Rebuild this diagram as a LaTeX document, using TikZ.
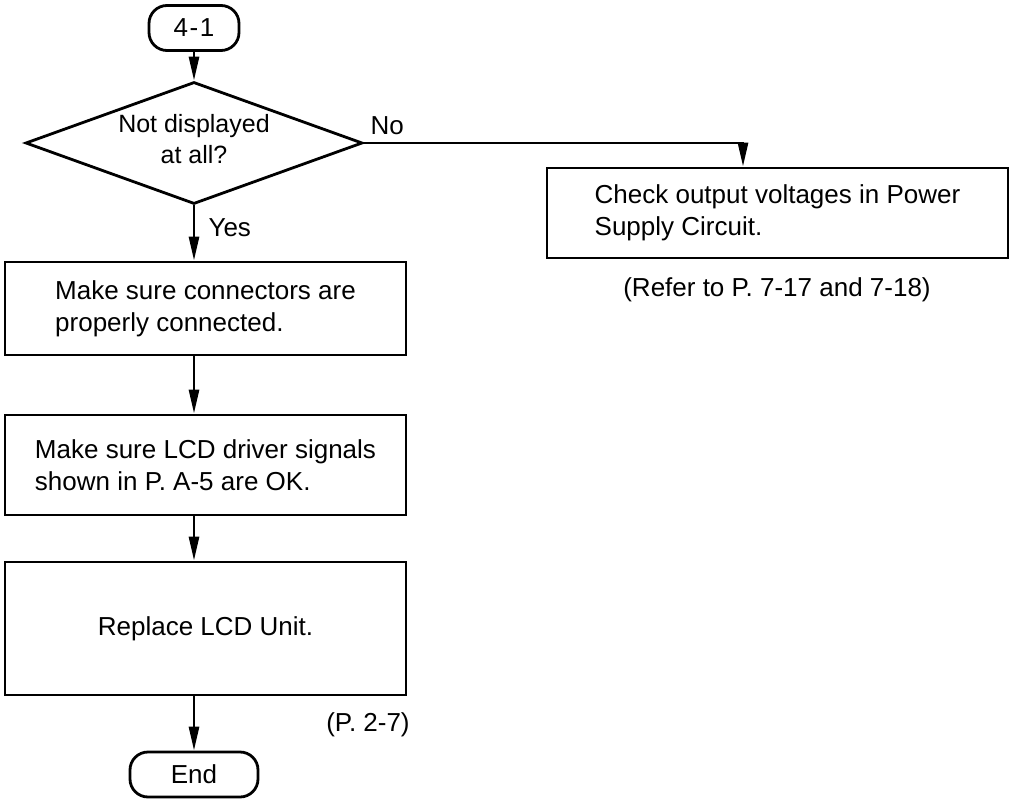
\documentclass[tikz,border=0pt]{standalone}
\usepackage{fontspec}
\setmainfont{Liberation Sans}
\usetikzlibrary{shapes.geometric,arrows.meta}
\begin{document}
\begin{tikzpicture}[x=1pt,y=-1pt,
  every node/.style={font=\fontsize{26}{32}\selectfont},
  arr/.style={line width=2.8pt,-{Triangle[length=24pt,width=10pt]}},
  box/.style={draw,line width=2.8pt,rectangle,align=left,inner sep=0pt},
  term/.style={draw,line width=2.8pt,rectangle,rounded corners=18pt,inner sep=0pt,minimum height=45pt},
  dec/.style={draw,diamond,line width=2.8pt,inner sep=0pt}]
\useasboundingbox (0,0) rectangle (1011,799);
\node[term,minimum width=90pt] (t1) at (194,28) {4\kern1.5pt-\kern1.5pt1};
\node[dec,minimum width=337pt,minimum height=122pt] (d) at (194,143) {};
\node[align=center,font=\fontsize{25}{31}\selectfont] (dt) at (194,139) {Not displayed\\at all?};
\node[box,minimum width=401pt,minimum height=93pt] (b1) at (205.5,308.5) {Make sure connectors are\\properly connected.};
\node[box,minimum width=401pt,minimum height=100pt] (b2) at (205.5,465) {Make sure LCD driver signals\\shown in P. A-5 are OK.};
\node[box,minimum width=401pt,minimum height=133pt] (b3) at (205.5,628.5) {Replace LCD Unit.};
\node[term,minimum width=128pt] (e) at (194,774.5) {End};
\node[box,minimum width=461pt,minimum height=90pt] (r) at (777.5,213) {Check output voltages in Power\\Supply Circuit.};
\node (ref) at (777,290) {(Refer to P. 7-17 and 7-18)};
\node (p27) at (368,725) {(P. 2-7)};
\node[anchor=west] (yes) at (205,228) {Yes};
\node[anchor=west] (no) at (367,126) {No};
\coordinate (rin) at (743,0);
\draw[arr] (t1.south) -- (t1.south |- d.north);
\draw[arr] (d.south) -- (d.south |- b1.north);
\draw[arr] (d.south |- b1.south) -- (d.south |- b2.north);
\draw[arr] (d.south |- b2.south) -- (d.south |- b3.north);
\draw[arr] (d.south |- b3.south) -- (d.south |- e.north);
\draw[arr] (d.east) -- (d.east -| rin) -- (rin |- r.north);
\end{tikzpicture}
\end{document}
